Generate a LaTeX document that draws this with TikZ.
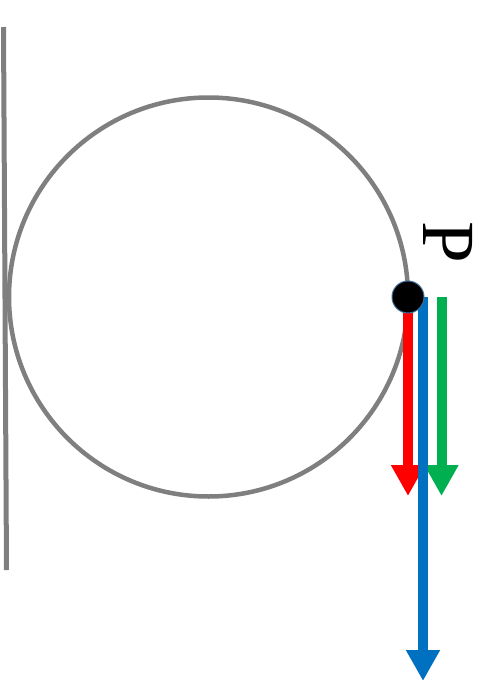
\documentclass[tikz,border=0pt]{standalone}
\usepackage{fontspec}
\setmainfont{Liberation Serif}
\usetikzlibrary{arrows.meta}
\definecolor{cgray}{HTML}{7F7F7F}
\definecolor{cred}{HTML}{FF0000}
\definecolor{cblue}{HTML}{0070C0}
\definecolor{cgreen}{HTML}{00B050}
\definecolor{cedge}{HTML}{41719C}
\begin{document}
\begin{tikzpicture}[x=1pt,y=-1pt,
  wall/.style={draw=cgray,line width=5pt},
  ring/.style={draw=cgray,line width=4.5pt},
  vec/.style={line width=10pt,-{Triangle[width=32pt,length=31pt]}},
  pointdot/.style={circle,fill=black,draw=cedge,line width=1pt,minimum size=32pt,inner sep=0pt},
  lbl/.style={inner sep=0pt,font=\fontsize{75}{80}\selectfont,rotate=-90}]
\useasboundingbox (0,0) rectangle (483,680);
\coordinate (w1) at (3.5,27);
\coordinate (w2) at (6.5,570);
\draw[wall] (w1) -- (w2);
\coordinate (c) at (208.5,297);
\draw[ring] (c) circle[radius=199.5];
\coordinate (rs) at (408,297);
\coordinate (re) at (408,496);
\coordinate (gs) at (441.5,297);
\coordinate (ge) at (441.5,496);
\coordinate (bs) at (423,297);
\coordinate (be) at (423,681);
\draw[vec,cred] (rs) -- (re);
\draw[vec,cgreen] (gs) -- (ge);
\draw[vec,cblue] (bs) -- (be);
\node[pointdot] (p) at (408,297) {};
\node[lbl] (plabel) at (448,242) {P};
\end{tikzpicture}
\end{document}
